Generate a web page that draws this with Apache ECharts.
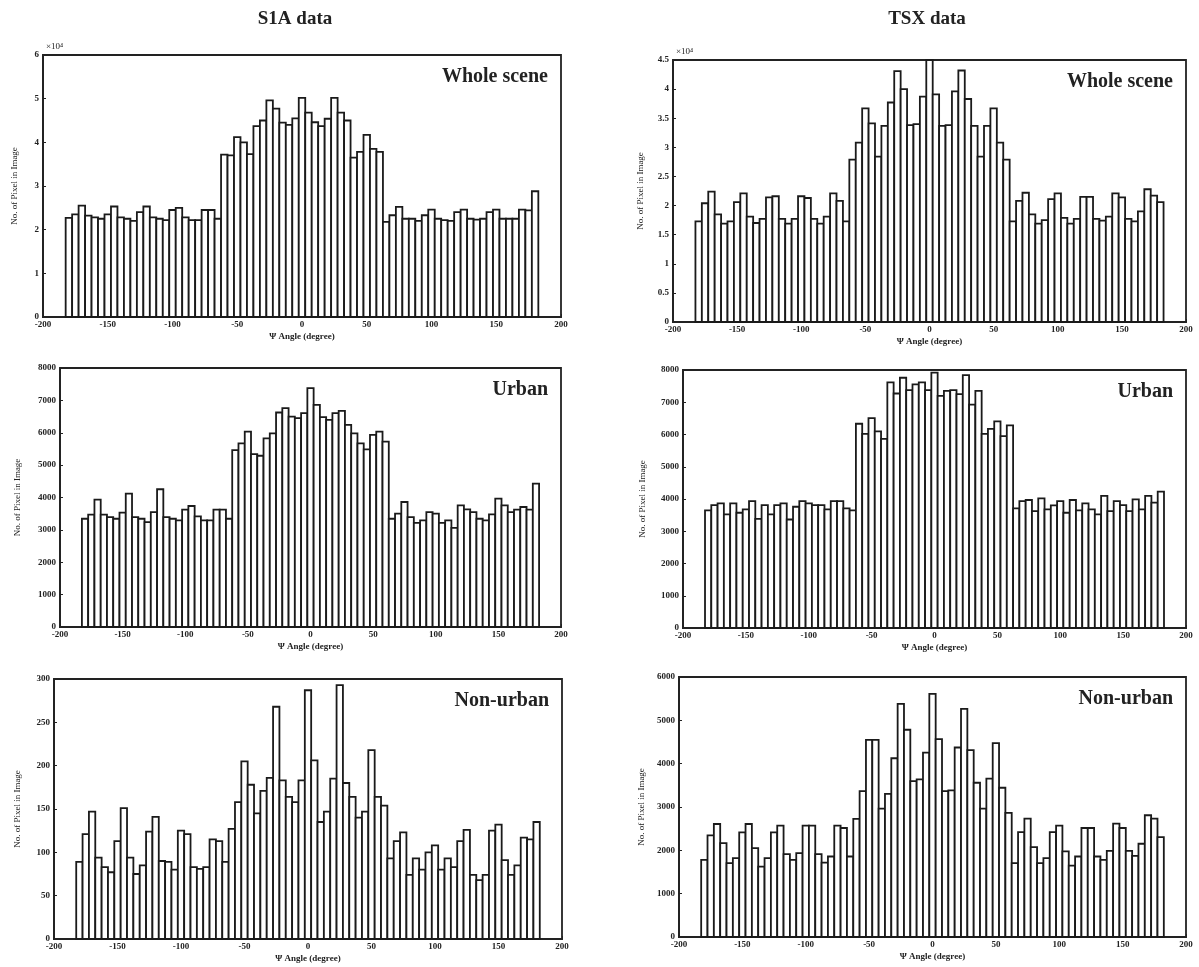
<!DOCTYPE html>
<html>
<head>
<meta charset="utf-8">
<script src="https://cdn.jsdelivr.net/npm/echarts@6/dist/echarts.min.js"></script>
<style>
html,body{margin:0;padding:0;background:#fff;}
#chart{width:1199px;height:967px;}
</style>
</head>
<body>
<div id="chart"></div>
<script>
// Bin centres (degrees)
const binCenters = [-180,-175,-170,-165,-160,-155,-150,-145,-140,-135,-130,-125,-120,-115,-110,-105,-100,-95,-90,-85,-80,-75,-70,-65,
  -60,-55,-50,-45,-40,-35,-30,-25,-20,-15,-10,-5,0,5,10,15,20,25,30,35,40,45,50,55,60,
  65,70,75,80,85,90,95,100,105,110,115,120,125,130,135,140,145,150,155,160,165,170,175,180];
const xTicks = [-200,-150,-100,-50,0,50,100,150,200];

// S1A whole scene (x 10^4)
const s1aWhole = [2.27,2.35,2.55,2.32,2.28,2.25,2.35,2.53,2.28,2.25,2.2,2.4,2.53,2.28,2.25,2.22,2.45,2.5,2.28,2.22,2.22,2.45,2.45,2.25,
  3.72,3.7,4.12,4.0,3.73,4.37,4.5,4.96,4.77,4.45,4.4,4.55,5.02,4.68,4.46,4.37,4.54,5.02,4.68,4.5,3.65,3.78,4.17,3.85,3.78,
  2.18,2.33,2.52,2.25,2.25,2.2,2.33,2.46,2.25,2.22,2.2,2.4,2.46,2.25,2.23,2.25,2.4,2.46,2.25,2.25,2.25,2.46,2.44,2.88];
// TSX whole scene (x 10^4)
const tsxWhole = [1.73,2.04,2.24,1.85,1.69,1.73,2.06,2.21,1.81,1.70,1.77,2.14,2.16,1.77,1.69,1.77,2.16,2.13,1.77,1.69,1.81,2.21,2.08,1.73,
  2.79,3.08,3.67,3.41,2.84,3.37,3.77,4.31,4.0,3.38,3.4,3.87,4.5,3.91,3.37,3.38,3.96,4.32,3.83,3.37,2.84,3.37,3.67,3.08,2.79,
  1.73,2.08,2.22,1.85,1.69,1.75,2.11,2.21,1.79,1.69,1.77,2.15,2.15,1.77,1.74,1.81,2.21,2.14,1.77,1.73,1.9,2.28,2.17,2.06];
// S1A urban
const s1aUrban = [3344,3468,3934,3468,3395,3344,3530,4120,3395,3344,3240,3550,4255,3395,3344,3292,3623,3737,3416,3292,3292,3623,3623,3344,
  5466,5673,6035,5342,5290,5828,5983,6625,6760,6501,6449,6605,7380,6863,6480,6397,6605,6677,6242,5983,5673,5487,5932,6035,5725,
  3344,3499,3861,3395,3219,3292,3550,3499,3219,3292,3064,3758,3634,3550,3344,3292,3478,3965,3758,3550,3623,3706,3623,4431];
// TSX urban
const tsxUrban = [3646,3812,3865,3521,3865,3573,3677,3937,3385,3812,3521,3812,3865,3365,3760,3937,3865,3812,3812,3677,3937,3937,3708,3646,
  6333,6021,6510,6094,5865,7615,7271,7760,7375,7552,7615,7375,7917,7198,7354,7375,7250,7844,6927,7354,6021,6177,6406,5948,6281,
  3708,3937,3969,3625,4021,3677,3802,3937,3573,3969,3646,3865,3677,3521,4094,3625,3937,3812,3625,3990,3677,4094,3885,4229];
// S1A non-urban
const s1aNonUrban = [89,121,147,94,83,77,113,151,94,75,85,124,141,90,89,80,125,121,83,81,83,115,113,89,
  127,158,205,178,145,171,186,268,183,164,158,183,287,206,135,147,185,293,180,164,140,147,218,164,154,
  93,113,123,74,93,80,100,108,80,93,83,113,126,74,68,74,125,132,91,74,85,117,115,135];
// TSX non-urban
const tsxNonUrban = [1780,2345,2608,2167,1703,1819,2415,2608,2051,1625,1819,2415,2570,1912,1780,1935,2570,2570,1912,1718,1858,2570,2515,1858,
  2724,3367,4551,4551,2964,3305,4125,5379,4783,3599,3638,4257,5611,4567,3367,3382,4373,5263,4311,3560,2964,3653,4474,3444,2864,
  1703,2422,2732,2074,1703,1819,2422,2570,1974,1649,1858,2515,2515,1858,1780,1989,2616,2515,1989,1873,2152,2810,2732,2306];

const columnTitles = ['S1A data','TSX data'];
const panelLabels = ['Whole scene','Whole scene','Urban','Urban','Non-urban','Non-urban'];
const xName = 'Ψ Angle (degree)';
const yName = 'No. of Pixel in Image';

const panels = [
  {data:s1aWhole, ymax:6, step:1, grid:{left:43,top:55,width:518,height:262}, gap:24},
  {data:tsxWhole, ymax:4.5, step:0.5, grid:{left:673,top:60,width:513,height:262}, gap:28},
  {data:s1aUrban, ymax:8000, step:1000, grid:{left:60,top:368,width:501,height:259}, gap:38},
  {data:tsxUrban, ymax:8000, step:1000, grid:{left:683,top:370,width:503,height:258}, gap:36},
  {data:s1aNonUrban, ymax:300, step:50, grid:{left:54,top:679,width:508,height:260}, gap:32},
  {data:tsxNonUrban, ymax:6000, step:1000, grid:{left:679,top:677,width:507,height:260}, gap:33}
];

const FONT = '"Liberation Serif","DejaVu Serif",serif';
const TXT = '#222';

const grids=[], xAxes=[], yAxes=[], series=[], graphics=[];
panels.forEach((p,i)=>{
  grids.push(Object.assign({show:true, borderColor:'#222', borderWidth:1.8, backgroundColor:'#fff'}, p.grid));
  xAxes.push({type:'value', gridIndex:i, min:-200, max:200, interval:50,
    name:xName, nameLocation:'middle', nameGap:15,
    nameTextStyle:{fontFamily:FONT, fontSize:9, fontWeight:'bold', color:TXT},
    axisLine:{show:true, onZero:false, lineStyle:{color:'#222', width:1.8}},
    axisTick:{show:true, inside:true, length:3, lineStyle:{color:'#222'}},
    axisLabel:{fontFamily:FONT, fontSize:9, fontWeight:'bold', color:TXT, margin:3,
      formatter:(v)=>String(v)},
    splitLine:{show:false}});
  yAxes.push({type:'value', gridIndex:i, min:0, max:p.ymax, interval:p.step,
    name:yName, nameLocation:'middle', nameGap:p.gap,
    nameTextStyle:{fontFamily:FONT, fontSize:9, color:TXT},
    axisLine:{show:true, onZero:false, lineStyle:{color:'#222', width:1.8}},
    axisTick:{show:true, inside:true, length:3, lineStyle:{color:'#222'}},
    axisLabel:{fontFamily:FONT, fontSize:9, fontWeight:'bold', color:TXT, margin:4,
      formatter:(v)=>String(Math.round(v*10)/10)},
    splitLine:{show:false}});
  series.push({type:'custom', xAxisIndex:i, yAxisIndex:i,
    data: binCenters.map((c,k)=>[c, p.data[k]]),
    renderItem:function(params, api){
      const c = api.value(0), v = api.value(1);
      const a = api.coord([c-2.5, v]);
      const b = api.coord([c+2.5, 0]);
      return {type:'rect', shape:{x:a[0], y:a[1], width:b[0]-a[0], height:b[1]-a[1]},
        style:{fill:'#fff', stroke:'#1a1a1a', lineWidth:1.8}};
    }});
  graphics.push({type:'text', x: p.grid.left + p.grid.width - 13, y: p.grid.top + 12,
    style:{text:panelLabels[i], font:'bold 20px '+FONT, fill:TXT, textAlign:'right', textVerticalAlign:'top'}});
});

graphics.push({type:'text', x:295, y:10, style:{text:columnTitles[0], font:'bold 19px '+FONT, fill:TXT, textAlign:'center', textVerticalAlign:'top'}});
graphics.push({type:'text', x:927, y:10, style:{text:columnTitles[1], font:'bold 19px '+FONT, fill:TXT, textAlign:'center', textVerticalAlign:'top'}});
graphics.push({type:'text', x:46, y:42, style:{text:'×10⁴', font:'9px '+FONT, fill:TXT}});
graphics.push({type:'text', x:676, y:47, style:{text:'×10⁴', font:'9px '+FONT, fill:TXT}});

const chart = echarts.init(document.getElementById('chart'));
chart.setOption({
  backgroundColor:'#fff',
  animation:false,
  grid:grids, xAxis:xAxes, yAxis:yAxes, series:series, graphic:graphics
});
</script>
</body>
</html>
